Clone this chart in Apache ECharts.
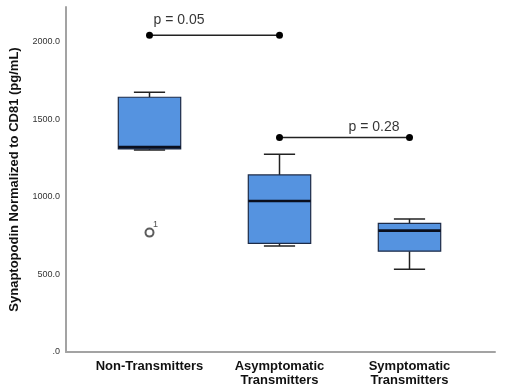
<!DOCTYPE html>
<html>
<head>
<meta charset="utf-8">
<script src="https://cdn.jsdelivr.net/npm/echarts@6/dist/echarts.min.js"></script>
<style>
  html, body { margin: 0; padding: 0; background: #fff; }
  #chart { width: 510px; height: 388px; }
</style>
</head>
<body>
<div id="chart"></div>
<script>
// group names on the x axis
var categories = ['Non-Transmitters', 'Asymptomatic\nTransmitters', 'Symptomatic\nTransmitters'];
// box statistics per group (pg/mL)
var whiskerLow = [1303, 684, 534];
var q1 = [1310, 701, 650];
var median = [1321, 974, 783];
var q3 = [1643, 1142, 830];
var whiskerHigh = [1675, 1275, 858];
// outliers: [group index, value, case label]
var outliers = [[0, 770, '1']];
// significance brackets
var sigFrom = [0, 1];
var sigTo = [1, 2];
var sigLevel = [2043, 1383];
var sigText = ['p = 0.05', 'p = 0.28'];

var yMax = 2225;

var chart = echarts.init(document.getElementById('chart'));

var boxData = categories.map(function (c, i) {
  return [i, whiskerLow[i], q1[i], median[i], q3[i], whiskerHigh[i]];
});

function renderBox(params, api) {
  var x = api.value(0);
  var pLow = api.coord([x, api.value(1)]);
  var pQ1 = api.coord([x, api.value(2)]);
  var pMed = api.coord([x, api.value(3)]);
  var pQ3 = api.coord([x, api.value(4)]);
  var pHigh = api.coord([x, api.value(5)]);
  var band = api.size([1, 0])[0];
  var half = band * 0.24;
  var cap = band * 0.12;
  var cx = pMed[0];
  var stroke = { stroke: '#222', lineWidth: 1.5 };
  return {
    type: 'group',
    children: [
      { type: 'line', shape: { x1: cx, y1: pQ3[1], x2: cx, y2: pHigh[1] }, style: stroke },
      { type: 'line', shape: { x1: cx - cap, y1: pHigh[1], x2: cx + cap, y2: pHigh[1] }, style: stroke },
      { type: 'line', shape: { x1: cx, y1: pQ1[1], x2: cx, y2: pLow[1] }, style: stroke },
      { type: 'line', shape: { x1: cx - cap, y1: pLow[1], x2: cx + cap, y2: pLow[1] }, style: stroke },
      {
        type: 'rect',
        shape: { x: cx - half, y: pQ3[1], width: half * 2, height: pQ1[1] - pQ3[1] },
        style: { fill: '#5593e0', stroke: '#1d2b47', lineWidth: 1.2 }
      },
      { type: 'line', shape: { x1: cx - half, y1: pMed[1], x2: cx + half, y2: pMed[1] }, style: { stroke: '#0a0f1e', lineWidth: 2.6 } }
    ]
  };
}

var sigSeries = [];
sigLevel.forEach(function (lv, i) {
  sigSeries.push({
    type: 'line',
    xAxisIndex: 1,
    yAxisIndex: 1,
    data: [[sigFrom[i], lv], [sigTo[i], lv]],
    symbol: 'circle',
    symbolSize: 7,
    lineStyle: { color: '#222', width: 1.5 },
    itemStyle: { color: '#000' },
    z: 3,
    silent: true
  });
});

var sigLabelSeries = {
  type: 'scatter',
  xAxisIndex: 1,
  yAxisIndex: 1,
  symbolSize: 0,
  silent: true,
  data: sigLevel.map(function (lv, i) {
    var left = i === 0;
    return {
      value: [left ? sigFrom[i] : sigTo[i], lv],
      label: {
        show: true,
        formatter: sigText[i],
        position: left ? [4, -22] : [-10, -17],
        align: left ? 'left' : 'right',
        verticalAlign: 'top',
        fontSize: 14,
        color: '#000',
        fontFamily: 'Liberation Sans, Arial, sans-serif'
      }
    };
  })
};

option = {
  animation: false,
  backgroundColor: '#fff',
  grid: [
    { left: 63, right: 15, top: 7, bottom: 36 },
    { left: 84.5, right: 35.5, top: 7, bottom: 36 }
  ],
  xAxis: [
    {
      type: 'value', gridIndex: 0, min: 0, max: 1,
      axisLine: { show: true, lineStyle: { color: '#a3a3a3', width: 2 } },
      axisTick: { show: false }, axisLabel: { show: false }, splitLine: { show: false }
    },
    {
      type: 'category', gridIndex: 1, data: categories,
      axisLine: { show: false }, axisTick: { show: false }, splitLine: { show: false },
      axisLabel: {
        interval: 0,
        margin: 7, fontSize: 13, fontWeight: 'bold', color: '#111', lineHeight: 14,
        fontFamily: 'Liberation Sans, Arial, sans-serif'
      }
    }
  ],
  yAxis: [
    {
      type: 'value', gridIndex: 0, min: 0, max: yMax, interval: 500,
      name: 'Synaptopodin Normalized to CD81 (pg/mL)',
      nameLocation: 'middle', nameGap: 45,
      nameTextStyle: { fontSize: 13, fontWeight: 'bold', color: '#111', fontFamily: 'Liberation Sans, Arial, sans-serif' },
      axisLine: { show: true, lineStyle: { color: '#a3a3a3', width: 2 } },
      axisTick: { show: false }, splitLine: { show: false },
      axisLabel: {
        margin: 6, fontSize: 9, color: '#333', showMaxLabel: false,
        fontFamily: 'Liberation Sans, Arial, sans-serif',
        formatter: function (v) { return v === 0 ? '.0' : v.toFixed(1); }
      }
    },
    {
      type: 'value', gridIndex: 1, min: 0, max: yMax, show: false
    }
  ],
  series: [
    {
      type: 'custom',
      xAxisIndex: 1,
      yAxisIndex: 1,
      renderItem: renderBox,
      encode: { x: 0, y: [1, 2, 3, 4, 5] },
      data: boxData,
      silent: true,
      z: 2
    },
    {
      type: 'scatter',
      xAxisIndex: 1,
      yAxisIndex: 1,
      symbol: 'emptyCircle',
      symbolSize: 8,
      itemStyle: { color: '#333', borderColor: '#333', borderWidth: 1.3 },
      data: outliers.map(function (o) { return { value: [o[0], o[1]], name: o[2] }; }),
      label: {
        show: true, formatter: '{b}', position: [8.5, -8],
        align: 'left', verticalAlign: 'top',
        fontSize: 9, color: '#222', fontFamily: 'Liberation Sans, Arial, sans-serif'
      },
      silent: true
    },
    sigLabelSeries
  ].concat(sigSeries)
};

chart.setOption(option);
window.addEventListener('resize', function () {
  chart.resize();
});
</script>
</body>
</html>
